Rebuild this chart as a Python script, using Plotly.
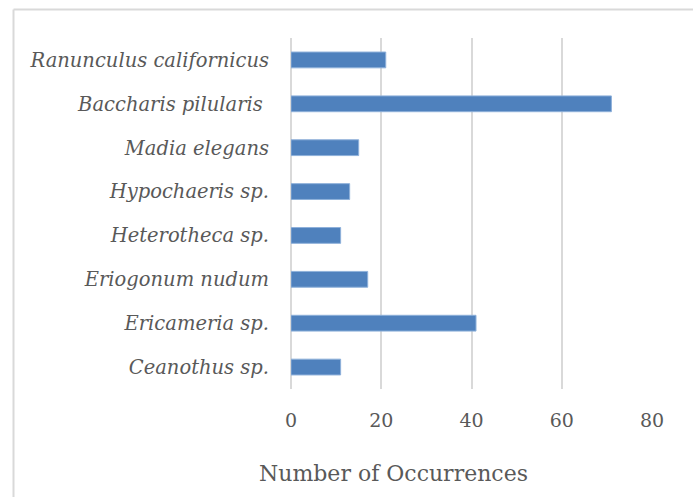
import plotly.graph_objects as go

species = ["Ceanothus sp.", "Ericameria sp.", "Eriogonum nudum", "Heterotheca sp.",
           "Hypochaeris sp.", "Madia elegans", "Baccharis pilularis ", "Ranunculus californicus"]
occurrences = [11, 41, 17, 11, 13, 15, 71, 21]
x_ticks = [0, 20, 40, 60, 80]

W, H = 693, 497
L, R, T, B = 291, 41, 38, 108
pw, ph = W - L - R, H - T - B

def px_x(x):
    return (x - L) / pw

def px_y(y):
    return (H - B - y) / ph

fig = go.Figure(go.Bar(
    x=occurrences, y=species, orientation="h",
    marker=dict(color="#4F81BD", line=dict(color="#8EB0DA", width=1)),
))

grey = "#595959"
fig.update_layout(
    width=W, height=H,
    margin=dict(l=L, r=R, t=T, b=B),
    paper_bgcolor="white", plot_bgcolor="white",
    bargap=0.64,
    showlegend=False,
    font=dict(family="DejaVu Serif", color=grey),
    xaxis=dict(range=[0, 80], tickvals=x_ticks, showgrid=True, gridcolor="#D9D9D9",
               gridwidth=1.5, zeroline=True, zerolinecolor="#D9D9D9", zerolinewidth=1.5,
               tickfont=dict(size=19, family="DejaVu Serif", color=grey),
               ticklabelstandoff=18, fixedrange=True),
    yaxis=dict(tickfont=dict(size=19.5, family="DejaVu Serif", color=grey, style="italic"),
               ticklabelstandoff=21, showgrid=False, zeroline=False, fixedrange=True,
               categoryorder="array", categoryarray=species),
    shapes=[
        dict(type="line", xref="paper", yref="paper",
             x0=px_x(13.5), x1=px_x(700), y0=px_y(9.5), y1=px_y(9.5),
             line=dict(color="#D9D9D9", width=2)),
        dict(type="line", xref="paper", yref="paper",
             x0=px_x(13.5), x1=px_x(13.5), y0=px_y(9.5), y1=px_y(520),
             line=dict(color="#D9D9D9", width=2)),
    ],
    annotations=[dict(text="Number of Occurrences", xref="paper", yref="paper",
                      x=px_x(393), y=px_y(473), xanchor="center", yanchor="middle",
                      showarrow=False,
                      font=dict(size=22, family="DejaVu Serif", color=grey))],
)

fig.write_html("out.html", config={"displayModeBar": False},
               post_script="document.body.style.margin='0';document.body.style.overflow='hidden';")
